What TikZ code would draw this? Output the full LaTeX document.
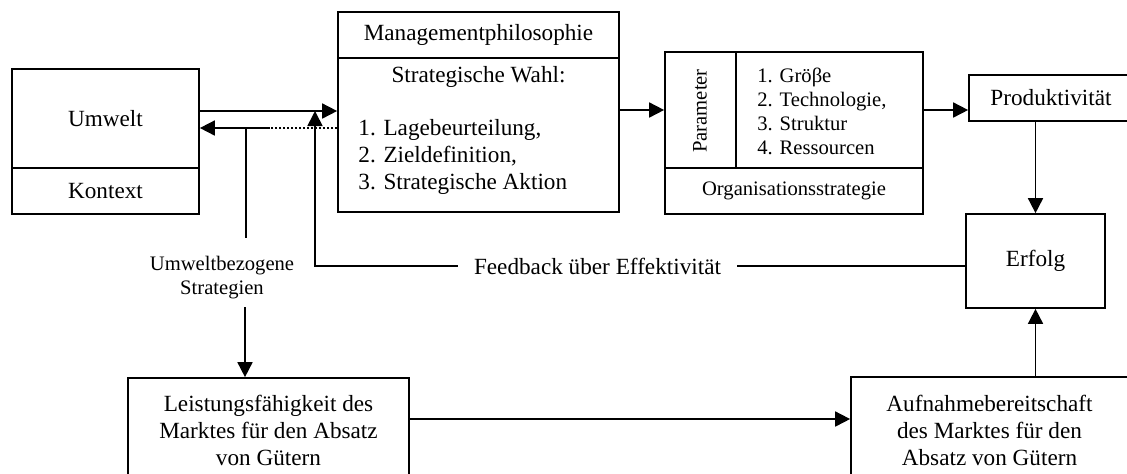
\documentclass[tikz,border=0pt]{standalone}
\usepackage{fontspec}
\setmainfont{Liberation Serif}
\usetikzlibrary{arrows.meta}
\tikzset{
  kasten/.style={draw, line width=0.85pt, inner sep=0pt, align=center},
  pfeil/.style={-{Triangle[length=7.5pt,width=7.5pt]}, line width=0.85pt},
  linie/.style={line width=0.85pt},
  gross/.style={font=\fontsize{11.6}{13.5}\selectfont},
  klein/.style={font=\fontsize{10.3}{12}\selectfont},
}
\begin{document}
\begin{tikzpicture}[x=0.5pt, y=-0.5pt, gross]
  \useasboundingbox (0,0) rectangle (1127,473);
  \clip (0,0) rectangle (1127,473);
  % Umwelt
  \node[kasten, minimum width=93.5pt, minimum height=49.5pt] (umwelt) at (105.5,118.5) {Umwelt};
  \node[kasten, minimum width=93.5pt, minimum height=23pt] (kontext) at (105.5,191) {Kontext};
  % Management
  \node[kasten, minimum width=140.5pt, minimum height=23pt] (philosophie) at (478.5,35) {Managementphilosophie};
  \node[kasten, minimum width=140.5pt, minimum height=77pt] (wahl) at (478.5,135) {};
  \node (wahltitel) at (478.5,77) {Strategische Wahl:};
  \node[align=left, anchor=west, inner sep=0pt] (wahlliste) at (358,157)
    {1. Lagebeurteilung,\\2. Zieldefinition,\\3. Strategische Aktion};
  % Organisationsstrategie
  \node[kasten, minimum width=35.5pt, minimum height=58pt] (parameter) at (700.5,110) {};
  \node[klein, rotate=90, inner sep=0pt] (parametertext) at (700,111) {Parameter};
  \node[kasten, minimum width=93.5pt, minimum height=58pt] (faktoren) at (829.5,110) {};
  \node[klein, align=left, anchor=west, inner sep=0pt] (faktorliste) at (757,111)
    {1. Gröβe\\2. Technologie,\\3. Struktur\\4. Ressourcen};
  \node[kasten, klein, minimum width=129pt, minimum height=23pt] (orgstrategie) at (794,191) {Organisationsstrategie};
  % Ergebnis
  \node[kasten, minimum width=82pt, minimum height=23pt] (produktivitaet) at (1051,98) {Produktivität};
  \node[kasten, minimum width=69.5pt, minimum height=47pt] (erfolg) at (1035.5,261) {Erfolg};
  % Markt
  \node[kasten, minimum width=140.5pt, minimum height=52.5pt] (leistung) at (268.5,430.5)
    {Leistungsfähigkeit des\\Marktes für den Absatz\\von Gütern};
  \node[kasten, minimum width=138.5pt, minimum height=53pt] (aufnahme) at (989.5,430)
    {Aufnahmebereitschaft\\des Marktes für den\\Absatz von Gütern};
  % Beschriftungen
  \node[klein, align=center] (strategien) at (222,278) {Umweltbezogene\\Strategien};
  \node[inner xsep=8pt] (feedback) at (597.5,266) {Feedback über Effektivität};
  \coordinate (einmuendung) at (315,111);
  \coordinate (rueck) at (269,128);
  \coordinate (abzweig) at (246,128);
  \coordinate (stratoben) at (246,238);
  \coordinate (stratunten) at (245,307);
  \coordinate (marktlinie) at (0,419);
  % Verbindungen
  \draw[pfeil] (umwelt.east |- einmuendung) -- (wahl.west |- einmuendung);
  \draw[line width=0.6pt, dash pattern=on 1pt off 1pt] (wahl.west |- rueck) -- (rueck);
  \draw[pfeil] (rueck) -- (rueck -| umwelt.east);
  \draw[linie] (abzweig) -- (stratoben);
  \draw[pfeil] (stratunten) -- (stratunten |- leistung.north);
  \draw[pfeil] (wahl.east |- parameter.west) -- (parameter.west);
  \draw[pfeil] (faktoren.east) -- (faktoren.east -| produktivitaet.west);
  \draw[pfeil] (produktivitaet.south -| erfolg.north) -- (erfolg.north);
  \draw[linie] (erfolg.west |- feedback.east) -- (feedback.east);
  \draw[pfeil] (feedback.west) -| (einmuendung);
  \draw[pfeil] (leistung.east |- marktlinie) -- (aufnahme.west |- marktlinie);
  \draw[pfeil] (aufnahme.north -| erfolg.south) -- (erfolg.south);
\end{tikzpicture}
\end{document}
